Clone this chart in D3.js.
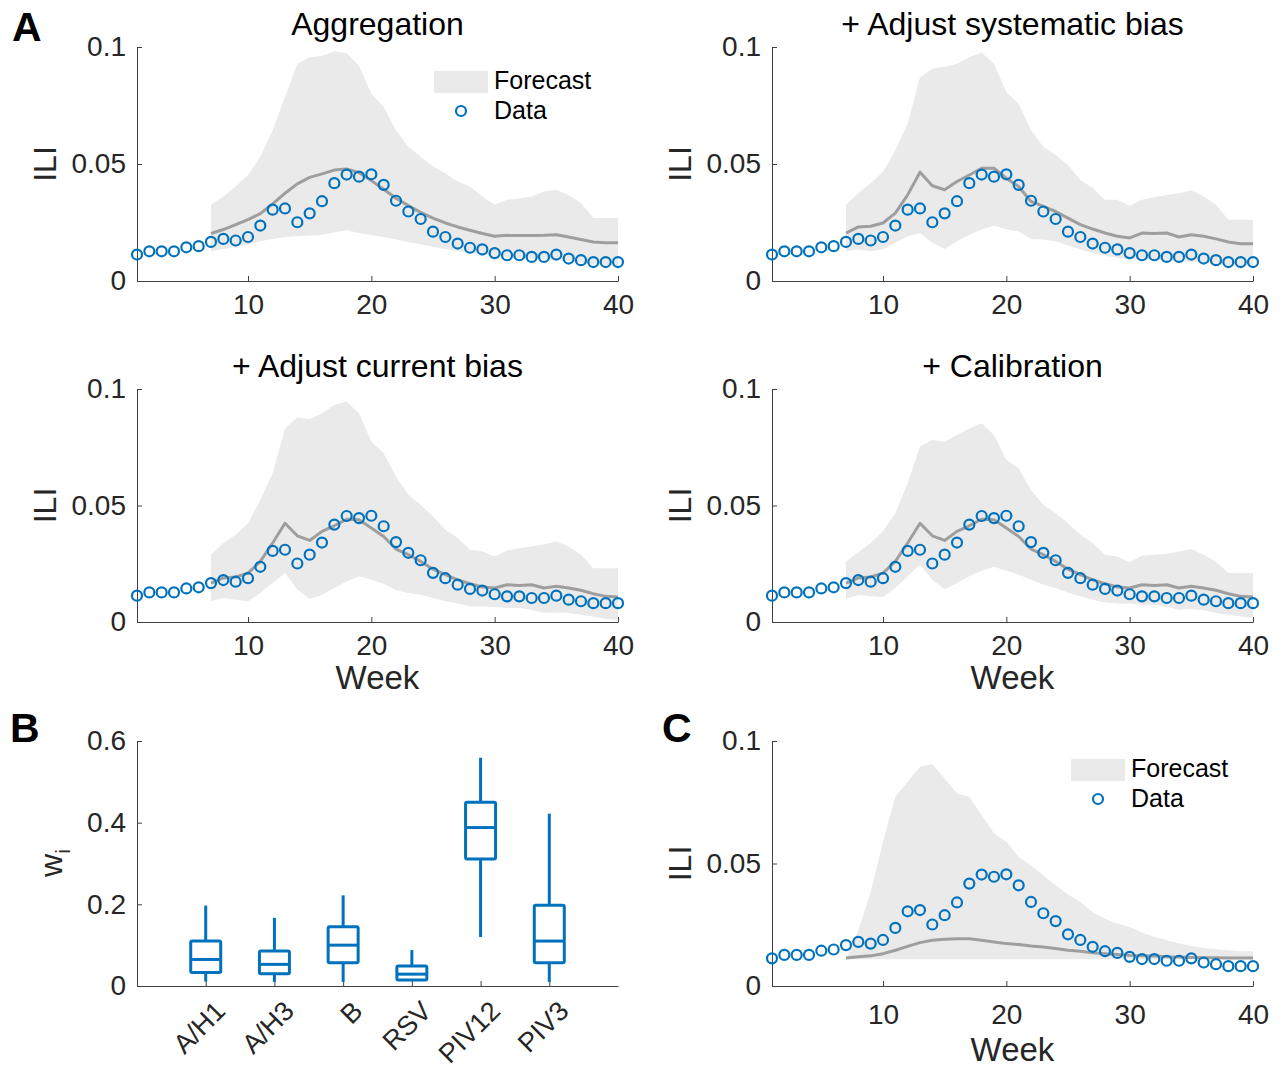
<!DOCTYPE html>
<html>
<head>
<meta charset="utf-8">
<script src="https://cdn.jsdelivr.net/npm/d3@7"></script>
<style>
body { margin: 0; background: #fff; }
svg { font-family: "Liberation Sans", Arial, Helvetica, sans-serif; }
</style>
</head>
<body>
<svg id="fig" width="1287" height="1070"></svg>
<script>
// weeks shown on the x axis, and the weeks that have a forecast
const weeks = [1,2,3,4,5,6,7,8,9,10,11,12,13,14,15,16,17,18,19,20,21,22,23,24,25,26,27,28,29,30,31,32,33,34,35,36,37,38,39,40];
const forecastWeeks = [7,8,9,10,11,12,13,14,15,16,17,18,19,20,21,22,23,24,25,26,27,28,29,30,31,32,33,34,35,36,37,38,39,40];

// observed ILI (same in every panel)
const iliData = [0.0113,0.0127,0.0127,0.0127,0.0144,0.0149,0.0167,0.0180,0.0173,0.0188,0.0237,0.0305,0.0310,0.0251,0.0289,0.0341,0.0418,0.0455,0.0446,0.0456,0.0411,0.0343,0.0297,0.0265,0.0211,0.0188,0.0160,0.0142,0.0135,0.0119,0.0110,0.0110,0.0103,0.0103,0.0113,0.0096,0.0089,0.0081,0.0081,0.0081];

// Aggregation
const aggMedian = [0.0203,0.0220,0.0241,0.0262,0.0288,0.0330,0.0375,0.0415,0.0443,0.0458,0.0474,0.0479,0.0463,0.0429,0.0392,0.0354,0.0322,0.0293,0.0269,0.0248,0.0231,0.0217,0.0203,0.0191,0.0195,0.0194,0.0194,0.0195,0.0198,0.0188,0.0177,0.0167,0.0163,0.0163];
const aggUpper = [0.0326,0.0361,0.0404,0.0453,0.0531,0.0644,0.0786,0.0928,0.0956,0.0963,0.0982,0.0973,0.0921,0.0800,0.0744,0.0644,0.0574,0.0531,0.0489,0.0460,0.0425,0.0404,0.0361,0.0326,0.0347,0.0354,0.0361,0.0382,0.0390,0.0368,0.0333,0.0269,0.0269,0.0269];
const aggLower = [0.0127,0.0137,0.0146,0.0156,0.0170,0.0180,0.0188,0.0191,0.0194,0.0198,0.0208,0.0217,0.0205,0.0197,0.0188,0.0177,0.0166,0.0157,0.0146,0.0137,0.0127,0.0120,0.0113,0.0106,0.0103,0.0099,0.0095,0.0092,0.0089,0.0085,0.0078,0.0071,0.0067,0.0064];

// + Adjust systematic bias
const sysMedian = [0.0205,0.0231,0.0234,0.0248,0.0290,0.0368,0.0465,0.0407,0.0390,0.0425,0.0453,0.0482,0.0482,0.0439,0.0404,0.0340,0.0319,0.0297,0.0269,0.0241,0.0222,0.0205,0.0191,0.0184,0.0205,0.0203,0.0205,0.0188,0.0198,0.0191,0.0180,0.0167,0.0159,0.0159];
const sysUpper = [0.0326,0.0375,0.0418,0.0467,0.0559,0.0673,0.0871,0.0907,0.0916,0.0928,0.0956,0.0977,0.0928,0.0807,0.0758,0.0644,0.0574,0.0538,0.0496,0.0432,0.0397,0.0347,0.0347,0.0322,0.0347,0.0358,0.0368,0.0375,0.0387,0.0361,0.0326,0.0262,0.0262,0.0262];
const sysLower = [0.0127,0.0135,0.0127,0.0135,0.0163,0.0191,0.0205,0.0163,0.0137,0.0170,0.0198,0.0220,0.0237,0.0220,0.0212,0.0180,0.0177,0.0170,0.0152,0.0135,0.0120,0.0109,0.0099,0.0092,0.0092,0.0089,0.0085,0.0085,0.0081,0.0078,0.0071,0.0067,0.0064,0.0061];

// + Adjust current bias
const curMedian = [0.0167,0.0189,0.0193,0.0210,0.0260,0.0339,0.0424,0.0370,0.0350,0.0389,0.0413,0.0441,0.0439,0.0403,0.0367,0.0313,0.0289,0.0260,0.0227,0.0203,0.0181,0.0164,0.0150,0.0146,0.0160,0.0157,0.0160,0.0146,0.0153,0.0146,0.0136,0.0121,0.0110,0.0107];
const curUpper = [0.0289,0.0339,0.0374,0.0424,0.0524,0.0639,0.0831,0.0879,0.0870,0.0896,0.0931,0.0946,0.0896,0.0774,0.0724,0.0624,0.0546,0.0503,0.0453,0.0396,0.0360,0.0310,0.0303,0.0281,0.0307,0.0317,0.0324,0.0334,0.0346,0.0324,0.0289,0.0231,0.0231,0.0231];
const curLower = [0.0089,0.0103,0.0096,0.0089,0.0124,0.0167,0.0210,0.0139,0.0099,0.0117,0.0146,0.0174,0.0196,0.0181,0.0164,0.0136,0.0124,0.0117,0.0103,0.0089,0.0079,0.0067,0.0067,0.0064,0.0060,0.0060,0.0053,0.0039,0.0041,0.0039,0.0031,0.0024,0.0013,0.0010];

// + Calibration
const calMedian = [0.0167,0.0189,0.0193,0.0210,0.0260,0.0339,0.0424,0.0370,0.0350,0.0389,0.0413,0.0441,0.0439,0.0403,0.0367,0.0313,0.0289,0.0260,0.0227,0.0203,0.0181,0.0164,0.0150,0.0146,0.0160,0.0157,0.0160,0.0146,0.0153,0.0146,0.0136,0.0121,0.0110,0.0107];
const calUpper = [0.0260,0.0299,0.0339,0.0389,0.0467,0.0596,0.0753,0.0781,0.0774,0.0803,0.0831,0.0853,0.0803,0.0696,0.0660,0.0567,0.0503,0.0467,0.0424,0.0374,0.0339,0.0289,0.0281,0.0256,0.0284,0.0289,0.0293,0.0303,0.0313,0.0289,0.0260,0.0210,0.0210,0.0210];
const calLower = [0.0099,0.0117,0.0110,0.0107,0.0146,0.0196,0.0246,0.0181,0.0141,0.0167,0.0196,0.0221,0.0236,0.0221,0.0203,0.0181,0.0160,0.0146,0.0127,0.0110,0.0096,0.0084,0.0079,0.0079,0.0074,0.0074,0.0067,0.0053,0.0056,0.0050,0.0039,0.0031,0.0024,0.0017];

// C: single-model forecast
const cMedian = [0.0114,0.0119,0.0123,0.0132,0.0146,0.0162,0.0177,0.0187,0.0191,0.0193,0.0193,0.0187,0.0180,0.0173,0.0169,0.0163,0.0159,0.0153,0.0146,0.0142,0.0136,0.0132,0.0129,0.0125,0.0123,0.0122,0.0119,0.0118,0.0116,0.0115,0.0115,0.0114,0.0114,0.0114];
const cUpper = [0.0109,0.0228,0.0384,0.0589,0.0772,0.0834,0.0895,0.0905,0.0847,0.0786,0.0772,0.0698,0.0623,0.0589,0.0527,0.0493,0.0452,0.0411,0.0373,0.0343,0.0302,0.0275,0.0255,0.0241,0.0218,0.0200,0.0187,0.0173,0.0163,0.0155,0.0150,0.0146,0.0142,0.0142];
const cLower = [0.0109,0.0109,0.0109,0.0109,0.0109,0.0109,0.0109,0.0109,0.0109,0.0109,0.0109,0.0109,0.0109,0.0109,0.0109,0.0109,0.0109,0.0109,0.0109,0.0109,0.0109,0.0109,0.0109,0.0109,0.0109,0.0109,0.0109,0.0109,0.0109,0.0109,0.0109,0.0109,0.0109,0.0109];

// B: weights w_i per virus
const viruses = ["A/H1", "A/H3", "B", "RSV", "PIV12", "PIV3"];
const wMin = [0.011, 0.010, 0.010, 0.012, 0.120, 0.010];
const wQ1  = [0.033, 0.030, 0.057, 0.015, 0.311, 0.057];
const wMed = [0.065, 0.053, 0.100, 0.029, 0.388, 0.110];
const wQ3  = [0.110, 0.086, 0.145, 0.049, 0.450, 0.198];
const wMax = [0.197, 0.167, 0.222, 0.088, 0.559, 0.422];

const iliTicks = [0, 0.05, 0.1];
const weekTicks = [10, 20, 30, 40];
const wTicks = [0, 0.2, 0.4, 0.6];

const svg = d3.select('#fig');
const axisColor = '#404040';
const tickTextColor = '#262626';
const dataBlue = '#0072BD';
const bandGrey = '#eaeaea';
const lineGrey = '#9e9e9e';
const tickFont = '28px';
const labelFont = '32px';

const styleAxis = function(g) {
    g.select('.domain').attr('stroke', axisColor).attr('stroke-width', 1);
    g.selectAll('.tick line').attr('stroke', axisColor);
    g.selectAll('.tick text')
        .attr('fill', tickTextColor)
        .style('font-size', tickFont)
        .style('font-family', '"Liberation Sans", Arial, sans-serif');
}

const drawLegend = function(lx, ly) {
    svg.append('rect')
        .attr('x', lx).attr('y', ly)
        .attr('width', 54).attr('height', 22)
        .attr('fill', bandGrey);
    svg.append('text')
        .attr('x', lx + 60).attr('y', ly + 18)
        .style('font-size', '25px')
        .text('Forecast');
    svg.append('circle')
        .attr('cx', lx + 27).attr('cy', ly + 40)
        .attr('r', 5)
        .attr('fill', 'none')
        .attr('stroke', dataBlue)
        .attr('stroke-width', 2.2);
    svg.append('text')
        .attr('x', lx + 60).attr('y', ly + 48)
        .style('font-size', '25px')
        .text('Data');
}

const drawIliPanel = function(p) {
    const x = d3.scaleLinear().domain([1, 40]).range([p.left, p.right]);
    const y = d3.scaleLinear().domain([0, 0.1]).range([p.bottom, p.top]);

    const area = d3.area()
        .x((d, i) => x(forecastWeeks[i]))
        .y0((d, i) => y(p.lower[i]))
        .y1(d => y(d));
    svg.append('path')
        .datum(p.upper)
        .attr('d', area)
        .attr('fill', bandGrey);

    const xAxis = svg.append('g')
        .attr('transform', `translate(0,${p.bottom})`)
        .call(d3.axisBottom(x).tickValues(weekTicks).tickSizeInner(-5).tickSizeOuter(0).tickPadding(p.xPad))
        .call(styleAxis);
    xAxis.selectAll('.tick text').attr('dy', '0.71em');

    svg.append('g')
        .attr('transform', `translate(${p.left},0)`)
        .call(d3.axisLeft(y).tickValues(iliTicks).tickFormat(d => String(d)).tickSizeInner(-5).tickSizeOuter(0).tickPadding(11))
        .call(styleAxis);

    const line = d3.line()
        .x((d, i) => x(forecastWeeks[i]))
        .y(d => y(d));
    svg.append('path')
        .datum(p.median)
        .attr('d', line)
        .attr('fill', 'none')
        .attr('stroke', lineGrey)
        .attr('stroke-width', 3)
        .attr('stroke-linejoin', 'round');

    svg.append('g').selectAll('circle')
        .data(iliData)
        .enter()
        .append('circle')
        .attr('cx', (d, i) => x(weeks[i]))
        .attr('cy', d => y(d))
        .attr('r', 5)
        .attr('fill', 'none')
        .attr('stroke', dataBlue)
        .attr('stroke-width', 2.2);

    svg.append('text')
        .attr('transform', `translate(${p.left - 92},${(p.top + p.bottom) / 2}) rotate(-90)`)
        .attr('text-anchor', 'middle')
        .attr('dy', '0.35em')
        .style('font-size', labelFont)
        .attr('fill', tickTextColor)
        .text('ILI');

    if (p.title) {
        svg.append('text')
            .attr('x', (p.left + p.right) / 2)
            .attr('y', p.top - 12)
            .attr('text-anchor', 'middle')
            .style('font-size', labelFont)
            .text(p.title);
    }
    if (p.weekDy) {
        svg.append('text')
            .attr('x', (p.left + p.right) / 2)
            .attr('y', p.bottom + p.weekDy)
            .attr('text-anchor', 'middle')
            .style('font-size', '33px')
            .attr('fill', tickTextColor)
            .text('Week');
    }
}

drawIliPanel({left: 137, right: 618, top: 47, bottom: 281, median: aggMedian, upper: aggUpper, lower: aggLower, title: 'Aggregation', xPad: 13});
drawIliPanel({left: 772, right: 1253, top: 47, bottom: 281, median: sysMedian, upper: sysUpper, lower: sysLower, title: '+ Adjust systematic bias', xPad: 13});
drawIliPanel({left: 137, right: 618, top: 389, bottom: 622, median: curMedian, upper: curUpper, lower: curLower, title: '+ Adjust current bias', xPad: 13, weekDy: 67});
drawIliPanel({left: 772, right: 1253, top: 389, bottom: 622, median: calMedian, upper: calUpper, lower: calLower, title: '+ Calibration', xPad: 13, weekDy: 67});
drawIliPanel({left: 772, right: 1253, top: 741, bottom: 986, median: cMedian, upper: cUpper, lower: cLower, xPad: 18, weekDy: 75});

drawLegend(434, 71);
drawLegend(1071, 759);

// B: box plot of weights
const bx = d3.scaleLinear().domain([0, 7]).range([137, 618]);
const by = d3.scaleLinear().domain([0, 0.6]).range([986, 741]);
const boxWidth = 30;

const bxAxis = svg.append('g')
    .attr('transform', 'translate(0,986)')
    .call(d3.axisBottom(bx).tickValues([1, 2, 3, 4, 5, 6]).tickFormat(d => viruses[d - 1]).tickSizeInner(-5).tickSizeOuter(0))
    .call(styleAxis);
bxAxis.selectAll('.tick text')
    .attr('text-anchor', 'end')
    .attr('dy', '0.35em')
    .style('font-size', '27px')
    .attr('transform', 'translate(14,20) rotate(-45)')
    .attr('y', 0);

svg.append('g')
    .attr('transform', 'translate(137,0)')
    .call(d3.axisLeft(by).tickValues(wTicks).tickFormat(d => String(d)).tickSizeInner(-5).tickSizeOuter(0).tickPadding(11))
    .call(styleAxis);

viruses.forEach(function(v, i) {
    const cx = bx(i + 1);
    const g = svg.append('g')
        .attr('stroke', dataBlue)
        .attr('stroke-width', 3)
        .attr('fill', 'none');
    g.append('line').attr('x1', cx).attr('x2', cx).attr('y1', by(wQ3[i])).attr('y2', by(wMax[i]));
    g.append('line').attr('x1', cx).attr('x2', cx).attr('y1', by(wQ1[i])).attr('y2', by(wMin[i]));
    g.append('rect')
        .attr('x', cx - boxWidth / 2)
        .attr('y', by(wQ3[i]))
        .attr('width', boxWidth)
        .attr('height', by(wQ1[i]) - by(wQ3[i]))
        .attr('rx', 1.5);
    g.append('line')
        .attr('x1', cx - boxWidth / 2).attr('x2', cx + boxWidth / 2)
        .attr('y1', by(wMed[i])).attr('y2', by(wMed[i]));
});

const wLabel = svg.append('text')
    .attr('transform', 'translate(62,863) rotate(-90)')
    .attr('text-anchor', 'middle')
    .attr('fill', tickTextColor)
    .style('font-size', labelFont);
wLabel.append('tspan').text('w');
wLabel.append('tspan').attr('dy', 8).style('font-size', '21px').text('i');

// panel letters
const letters = [['A', 12, 41], ['B', 10, 742], ['C', 662, 742]];
letters.forEach(function(l) {
    svg.append('text')
        .attr('x', l[1]).attr('y', l[2])
        .style('font-size', '41px')
        .style('font-weight', 'bold')
        .text(l[0]);
});
</script>
</body>
</html>
